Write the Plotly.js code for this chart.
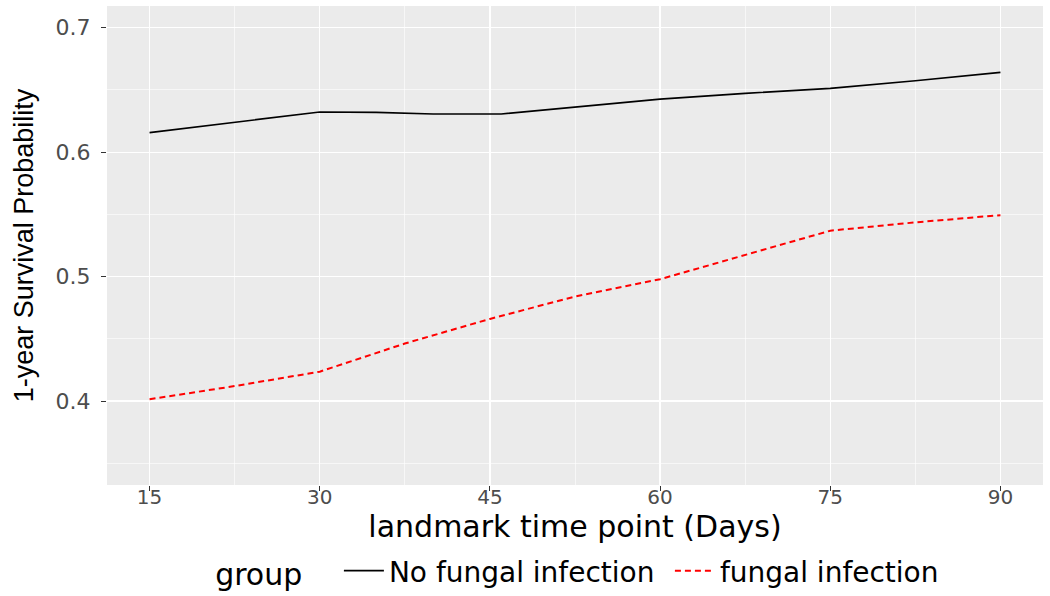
<!DOCTYPE html>
<html>
<head>
<meta charset="utf-8">
<script src="https://cdn.plot.ly/plotly-3.0.1.min.js"></script>
<style>html,body{margin:0;padding:0;background:#fff;}#chart{width:1050px;height:596px;}</style>
</head>
<body>
<div id="chart"></div>
<script>
// Data
var groupNames = ["No fungal infection", "fungal infection"];
var daysNoFungal = [15, 22.5, 30, 35, 40, 46, 52.5, 60, 67.5, 75, 82.5, 90];
var survNoFungal = [0.6157, 0.624, 0.6323, 0.632, 0.6307, 0.6307, 0.6365, 0.6427, 0.6473, 0.6513, 0.6574, 0.6641];
var daysFungal = [15, 22.5, 30, 37.5, 45, 52.5, 60, 67.5, 75, 82.5, 90];
var survFungal = [0.4014, 0.412, 0.4236, 0.4462, 0.466, 0.484, 0.4979, 0.5174, 0.5369, 0.5436, 0.5494];
var xTickVals = [15, 30, 45, 60, 75, 90];
var yTickVals = [0.4, 0.5, 0.6, 0.7];
var yTickText = ["0.4", "0.5", "0.6", "0.7"];

var traces = [
  {x: daysNoFungal, y: survNoFungal, name: groupNames[0], type: "scatter", mode: "lines",
   line: {color: "#000000", width: 1.7}},
  {x: daysFungal, y: survFungal, name: groupNames[1], type: "scatter", mode: "lines",
   line: {color: "#FF0000", width: 2, dash: "6px,4px"}}
];

var layout = {
  width: 1050, height: 596,
  margin: {l: 107, r: 7, t: 6, b: 111},
  paper_bgcolor: "#FFFFFF",
  plot_bgcolor: "#EBEBEB",
  font: {family: "DejaVu Sans, Arial, sans-serif", color: "#000000"},
  xaxis: {
    range: [11.25, 93.75], tickmode: "array", tickvals: xTickVals,
    ticks: "outside", ticklen: 5, tickcolor: "#333333", tickwidth: 1,
    ticklabelstandoff: -11,
    tickfont: {family: "DejaVu Sans, sans-serif", size: 20, color: "#4D4D4D"},
    showgrid: true, gridcolor: "#FFFFFF", gridwidth: 1.3,
    minor: {tickmode: "linear", tick0: 7.5, dtick: 7.5, showgrid: true, gridcolor: "#FFFFFF", gridwidth: 0.6, ticks: ""},
    zeroline: false, showline: false, automargin: true,
    title: {text: "landmark time point (Days)", font: {family: "DejaVu Sans, sans-serif", size: 30, color: "#000000"}, standoff: 1}
  },
  yaxis: {
    range: [0.3325, 0.7175], tickmode: "array", tickvals: yTickVals, ticktext: yTickText,
    ticks: "outside", ticklen: 5, tickcolor: "#333333", tickwidth: 1,
    ticklabelstandoff: 6,
    tickfont: {family: "DejaVu Sans, sans-serif", size: 22, color: "#4D4D4D"},
    showgrid: true, gridcolor: "#FFFFFF", gridwidth: 1.3,
    minor: {tickmode: "linear", tick0: 0.35, dtick: 0.05, showgrid: true, gridcolor: "#FFFFFF", gridwidth: 0.6, ticks: ""},
    zeroline: false, showline: false, automargin: true,
    title: {text: "1-year Survival Probability", font: {family: "Liberation Sans, Arial, sans-serif", size: 27, color: "#000000"}, standoff: 14}
  },
  showlegend: true,
  legend: {
    orientation: "h", xref: "container", yref: "container",
    x: 0.203, xanchor: "left", y: 0.042, yanchor: "middle",
    bgcolor: "rgba(0,0,0,0)",
    font: {family: "DejaVu Sans, sans-serif", size: 28, color: "#000000"},
    title: {text: "group   ", side: "left", font: {family: "DejaVu Sans, sans-serif", size: 30, color: "#000000"}},
    itemwidth: 40, entrywidth: 276, entrywidthmode: "pixels", tracegroupgap: 0
  }
};

Plotly.newPlot("chart", traces, layout, {displayModeBar: false, staticPlot: true});
</script>
</body>
</html>
